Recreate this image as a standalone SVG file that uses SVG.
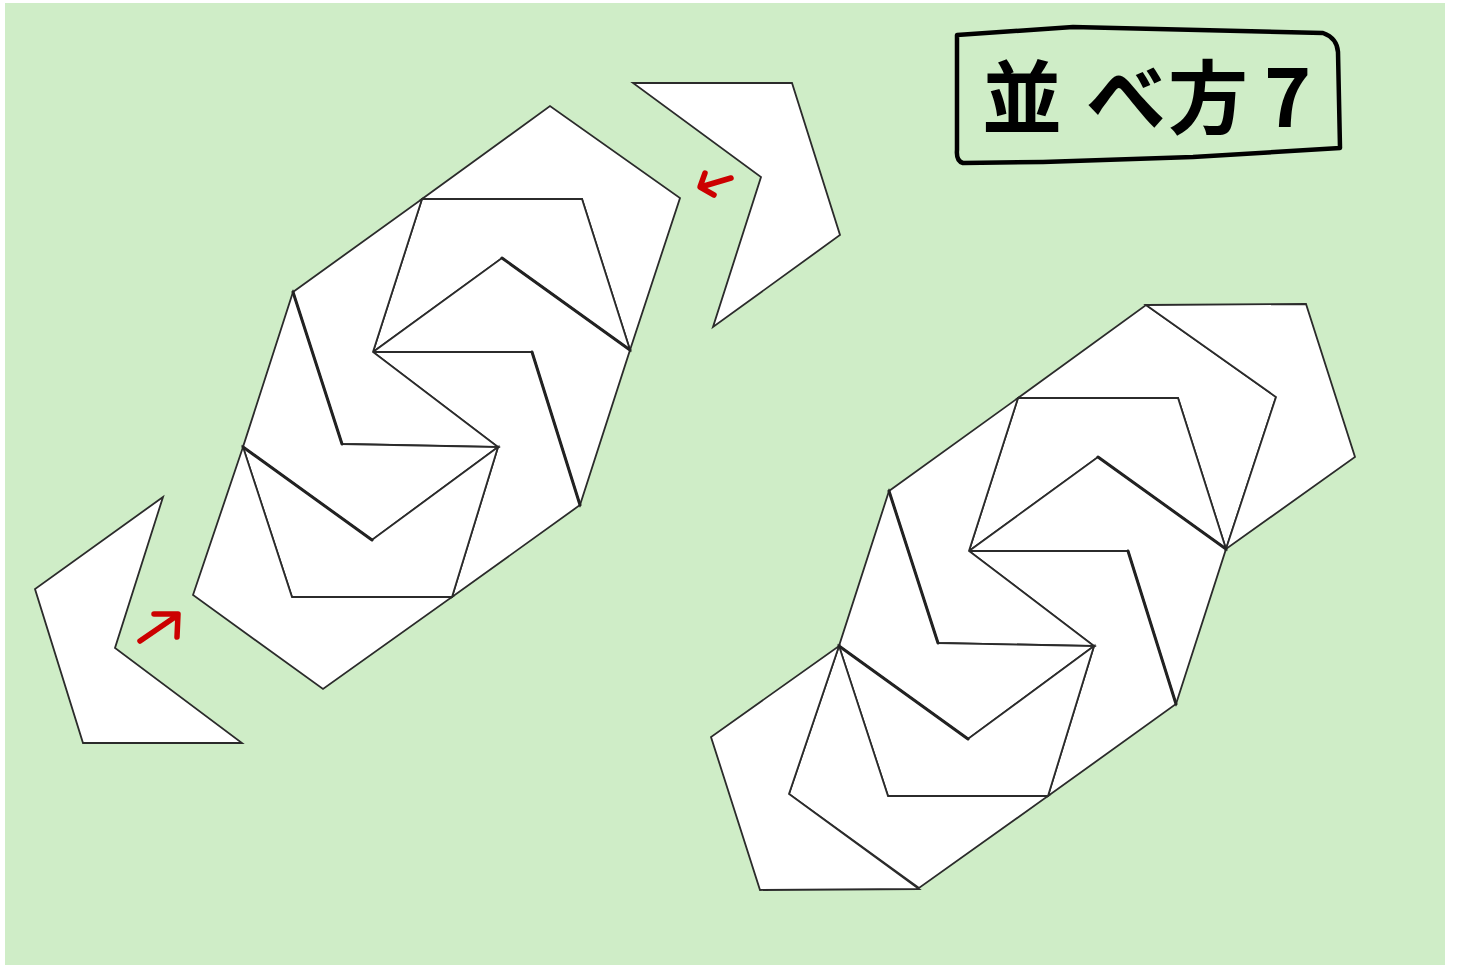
<svg xmlns="http://www.w3.org/2000/svg" width="1457" height="965" viewBox="0 0 1457 965">
<style>
.pc{fill:#ffffff;stroke:#2b2b2b;stroke-width:1.8;stroke-linejoin:miter}
.tk{fill:none;stroke:#222;stroke-width:3;stroke-linecap:round}
.arw{fill:none;stroke:#cc0000;stroke-width:5.5;stroke-linecap:round;stroke-linejoin:round}
.ttl{font-family:"Noto Sans CJK JP","Noto Sans CJK SC",sans-serif;font-size:80px;font-weight:bold;fill:#000}
</style>
<rect x="0" y="0" width="1457" height="965" fill="#ffffff"/>
<rect x="5" y="3" width="1440" height="962" fill="#cfedc7"/>

<g id="title">
<path d="M957,35 L1073,27 L1323,33 Q1337,38 1338,52 L1340,148 L1193,157 L1043,162 L963,163 Q956,161 957,150 Z" fill="none" stroke="#000" stroke-width="4.5" stroke-linejoin="round"/>
<text class="ttl" x="982 1086 1168 1264" y="127">並べ方7</text>
</g>

<g id="left-assembly">
<g id="L-A"><polygon class="pc" points="422,199 550,106 680,198 630,350 582,199"/></g>
<g id="L-D"><polygon class="pc" points="422,199 582,199 630,350 502,258 373,352"/></g>
<g id="L-C"><polygon class="pc" points="373,352 502,258 630,350 580,505 532,352"/></g>
<g id="L-H"><polygon class="pc" points="373,352 532,352 580,505 452,597 498,447"/></g>
<g id="L-B"><polygon class="pc" points="293,292 422,199 373,352 498,447 342,444"/></g>
<g id="L-E"><polygon class="pc" points="293,292 342,444 498,447 372,540 243,447"/></g>
<g id="L-F"><polygon class="pc" points="243,447 372,540 498,447 452,597 292,597"/></g>
<g id="L-G"><polygon class="pc" points="193,595 243,447 292,597 452,597 323,689"/></g>
<path class="tk" d="M502,258 L630,350 M293,292 L342,444 M532,352 L580,505 M243,447 L372,540"/>
</g>

<g id="loose-top"><polygon class="pc" points="633,83 792,83 840,235 713,327 761,177"/></g>
<g id="loose-bottom"><polygon class="pc" points="163,497 35,589 83,743 242,743 115,648"/></g>

<g id="right-assembly" transform="translate(596,199)">
<g id="R-A"><polygon class="pc" points="422,199 550,106 680,198 630,350 582,199"/></g>
<g id="R-D"><polygon class="pc" points="422,199 582,199 630,350 502,258 373,352"/></g>
<g id="R-C"><polygon class="pc" points="373,352 502,258 630,350 580,505 532,352"/></g>
<g id="R-H"><polygon class="pc" points="373,352 532,352 580,505 452,597 498,447"/></g>
<g id="R-B"><polygon class="pc" points="293,292 422,199 373,352 498,447 342,444"/></g>
<g id="R-E"><polygon class="pc" points="293,292 342,444 498,447 372,540 243,447"/></g>
<g id="R-F"><polygon class="pc" points="243,447 372,540 498,447 452,597 292,597"/></g>
<g id="R-G"><polygon class="pc" points="193,595 243,447 292,597 452,597 323,689"/></g>
<g id="R-top"><polygon class="pc" points="550,106 710,105 759,258 630,350 680,198"/></g>
<g id="R-bottom"><polygon class="pc" points="323,690 164,691 115,538 243,447 193,595"/></g>
<path class="tk" d="M502,258 L630,350 M293,292 L342,444 M532,352 L580,505 M243,447 L372,540"/>
</g>

<g id="connectors">
<path class="arw" d="M731,178 L704,186 M705,173 L700,187 L714,195"/>
<path class="arw" d="M140,641 L175,617 M154,614 L178,614 L177,637"/>
</g>
</svg>
